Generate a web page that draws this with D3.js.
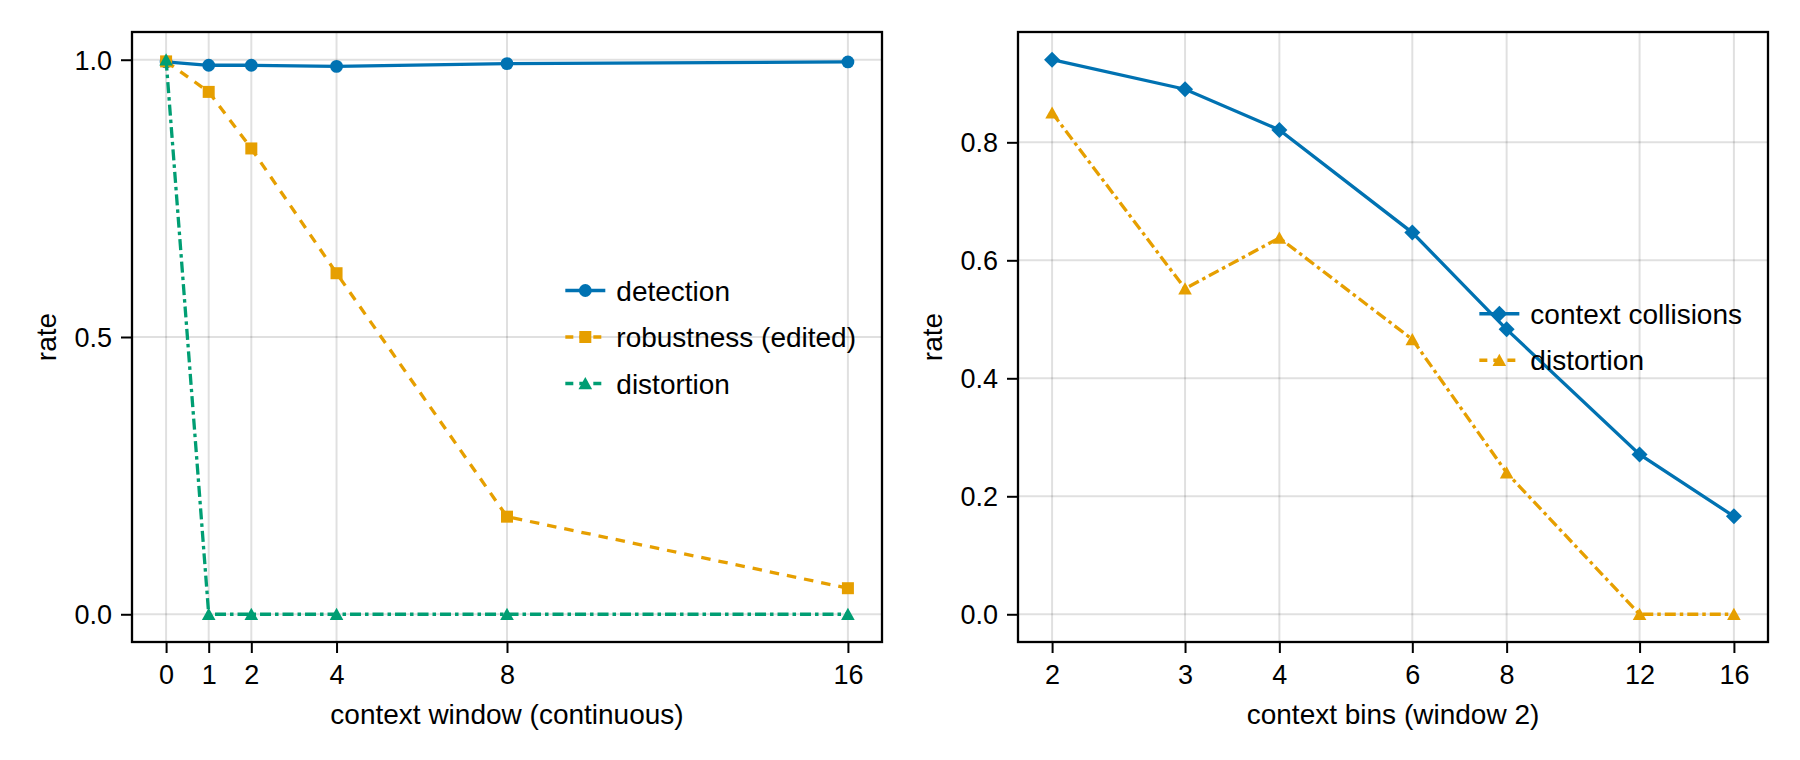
<!DOCTYPE html>
<html>
<head>
<meta charset="utf-8">
<script src="https://cdn.jsdelivr.net/npm/d3@7"></script>
<style>
  html, body { margin: 0; padding: 0; background: #fff; }
  svg { display: block; font-family: "Liberation Sans", Arial, sans-serif; }
</style>
</head>
<body>
<div id="chart"></div>
<script>
// ---- data ----
const windowX = [0, 1, 2, 4, 8, 16];
const detection = [0.996, 0.990, 0.990, 0.988, 0.993, 0.996];
const robustness = [0.997, 0.942, 0.840, 0.615, 0.176, 0.047];
const distortionWindow = [1.0, 0, 0, 0, 0, 0];

const binsX = [2, 3, 4, 6, 8, 12, 16];
const collisions = [0.940, 0.890, 0.821, 0.647, 0.483, 0.271, 0.166];
const distortionBins = [0.850, 0.552, 0.638, 0.466, 0.240, 0, 0];

const leftYTicks = [0, 0.5, 1.0];
const rightYTicks = [0, 0.2, 0.4, 0.6, 0.8];

const W = 1800, H = 760;
const FONT = 27;
const LEGEND_FONT = 28;
const BLUE = "#0072b2", ORANGE = "#e69f00", GREEN = "#009e73";
const LW = 3.3;
const DASH = "9.5 8";
const DASHDOT = "11 4 3.5 4";

const svg = d3.select("#chart").append("svg")
  .attr("width", W).attr("height", H)
  .attr("viewBox", `0 0 ${W} ${H}`);

// marker shapes
function marker(g, shape, color) {
  if (shape === "circle") {
    return g.append("circle").attr("r", 6.4).attr("fill", color);
  }
  if (shape === "square") {
    return g.append("rect").attr("x", -6).attr("y", -6)
      .attr("width", 12).attr("height", 12).attr("fill", color);
  }
  if (shape === "triangle") {
    return g.append("path").attr("d", "M0,-6.4L6.8,5.8L-6.8,5.8Z").attr("fill", color);
  }
  // diamond
  return g.append("path").attr("d", "M0,-8L8,0L0,8L-8,0Z").attr("fill", color);
}

function padded(ext, log) {
  if (log) {
    const a = Math.log(ext[0]), b = Math.log(ext[1]), p = 0.05 * (b - a);
    return [Math.exp(a - p), Math.exp(b + p)];
  }
  const p = 0.05 * (ext[1] - ext[0]);
  return [ext[0] - p, ext[1] + p];
}

function drawPanel(opts) {
  const { left, right, top, bottom, xs, series, xLog, xTicks, yTicks, yFmt, xLabel } = opts;
  const allY = series.flatMap((s) => s.values);

  const x = (xLog ? d3.scaleLog() : d3.scaleLinear())
    .domain(padded(d3.extent(xs), xLog))
    .range([left, right]);
  const y = d3.scaleLinear()
    .domain(padded(d3.extent(allY), false))
    .range([bottom, top]);

  const g = svg.append("g");

  // grid
  g.append("g").selectAll("line").data(xTicks).join("line")
    .attr("x1", (d) => x(d)).attr("x2", (d) => x(d))
    .attr("y1", top).attr("y2", bottom)
    .attr("stroke", "rgba(0,0,0,0.12)").attr("stroke-width", 2);
  g.append("g").selectAll("line").data(yTicks).join("line")
    .attr("y1", (d) => y(d)).attr("y2", (d) => y(d))
    .attr("x1", left).attr("x2", right)
    .attr("stroke", "rgba(0,0,0,0.12)").attr("stroke-width", 2);

  // axes via d3 axis generators
  const xAxis = g.append("g")
    .attr("transform", `translate(0,${bottom})`)
    .call(d3.axisBottom(x).tickValues(xTicks).tickFormat(d3.format("d")).tickSize(11).tickPadding(12));
  const yAxis = g.append("g")
    .attr("transform", `translate(${left},0)`)
    .call(d3.axisLeft(y).tickValues(yTicks).tickFormat(yFmt).tickSize(11).tickPadding(9));
  [xAxis, yAxis].forEach((a) => {
    a.select(".domain").remove();
    a.selectAll(".tick line").attr("stroke", "#000").attr("stroke-width", 2);
    a.selectAll(".tick text").attr("fill", "#000")
      .attr("font-size", FONT).attr("font-family", "Liberation Sans, Arial, sans-serif");
  });
  xAxis.selectAll(".tick text").attr("dy", null).attr("y", 42);
  yAxis.selectAll(".tick text").attr("dy", "0.355em");

  // series
  series.forEach((s) => {
    const pts = xs.map((v, i) => [x(v), y(s.values[i])]);
    g.append("path")
      .attr("d", d3.line()(pts))
      .attr("fill", "none")
      .attr("stroke", s.color)
      .attr("stroke-width", LW)
      .attr("stroke-dasharray", s.dash || null);
    const mg = g.append("g");
    pts.forEach((p) => {
      const m = mg.append("g").attr("transform", `translate(${p[0]},${p[1]})`);
      marker(m, s.shape, s.color);
    });
  });

  // frame
  g.append("rect")
    .attr("x", left).attr("y", top)
    .attr("width", right - left).attr("height", bottom - top)
    .attr("fill", "none").attr("stroke", "#000").attr("stroke-width", 2.3);

  // labels
  g.append("text")
    .attr("x", (left + right) / 2).attr("y", 724)
    .attr("text-anchor", "middle").attr("font-size", FONT + 1)
    .text(xLabel);
  g.append("text")
    .attr("transform", `translate(${left - 76},${(top + bottom) / 2}) rotate(-90)`)
    .attr("text-anchor", "middle").attr("font-size", FONT + 1)
    .text("rate");

  // legend (no frame, right-center)
  const lg = g.append("g");
  const texts = series.map((s) => s.name);
  const tmp = lg.append("text").attr("font-size", LEGEND_FONT);
  const widths = texts.map((t) => { tmp.text(t); return tmp.node().getComputedTextLength(); });
  tmp.remove();
  const patchW = 40, gap = 11, rowH = 46.5;
  const lx = right - 26 - d3.max(widths) - gap - patchW;
  const cy0 = (top + bottom) / 2 - (series.length - 1) * rowH / 2;
  series.forEach((s, i) => {
    const cy = cy0 + i * rowH;
    lg.append("line")
      .attr("x1", lx).attr("x2", lx + patchW)
      .attr("y1", cy).attr("y2", cy)
      .attr("stroke", s.color).attr("stroke-width", LW)
      .attr("stroke-dasharray", s.legendDash || null);
    const m = lg.append("g").attr("transform", `translate(${lx + patchW / 2},${cy})`);
    marker(m, s.shape, s.color);
    lg.append("text")
      .attr("x", lx + patchW + gap).attr("y", cy + 10)
      .attr("font-size", LEGEND_FONT)
      .text(s.name);
  });
}

const fmt1 = d3.format(".1f");

drawPanel({
  left: 132, right: 882, top: 32, bottom: 642,
  xs: windowX, xLog: false,
  xTicks: windowX, yTicks: leftYTicks, yFmt: fmt1,
  xLabel: "context window (continuous)",
  series: [
    { name: "detection", values: detection, color: BLUE, shape: "circle" },
    { name: "robustness (edited)", values: robustness, color: ORANGE, shape: "square", dash: DASH, legendDash: "8 6" },
    { name: "distortion", values: distortionWindow, color: GREEN, shape: "triangle", dash: DASHDOT, legendDash: "8 6" },
  ],
});

drawPanel({
  left: 1018, right: 1768, top: 32, bottom: 642,
  xs: binsX, xLog: true,
  xTicks: binsX, yTicks: rightYTicks, yFmt: fmt1,
  xLabel: "context bins (window 2)",
  series: [
    { name: "context collisions", values: collisions, color: BLUE, shape: "diamond" },
    { name: "distortion", values: distortionBins, color: ORANGE, shape: "triangle", dash: DASHDOT, legendDash: "8 6" },
  ],
});
</script>
</body>
</html>
